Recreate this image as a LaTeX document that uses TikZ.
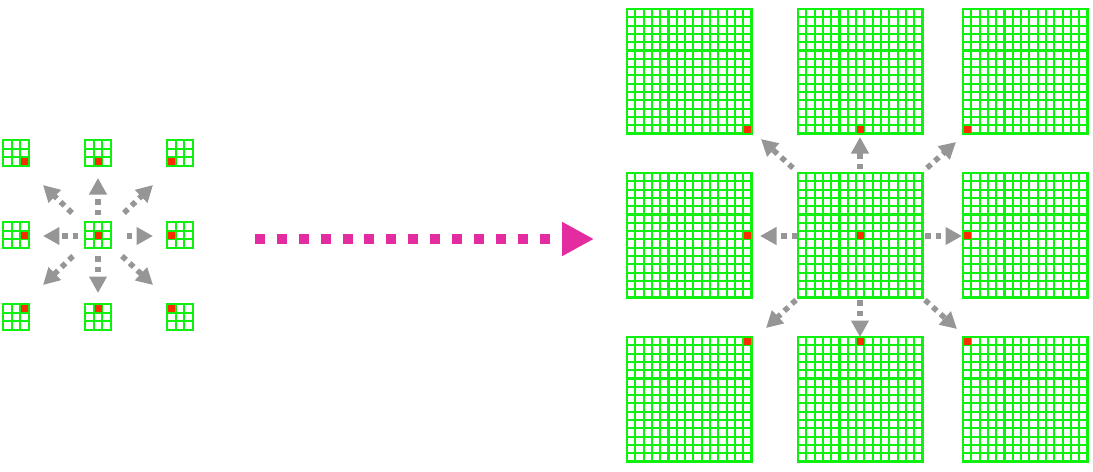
\documentclass[tikz,border=0pt]{standalone}
\usepackage{tikz}
\usetikzlibrary{calc,arrows.meta}
\definecolor{gridgreen}{RGB}{15,240,15}
\definecolor{cellred}{RGB}{250,45,0}
\definecolor{arrowgray}{RGB}{150,150,150}
\definecolor{pushpink}{RGB}{226,44,160}
\tikzset{
  gridline/.style={gridgreen, line width=1.15pt, line cap=rect},
  redcell/.style={fill=cellred},
  spread/.style={arrowgray, line width=0.11cm, dash pattern=on 0.11cm off 0.1cm,
    -{Triangle[length=0.33cm,width=0.34cm]}},
  bigpush/.style={pushpink, line width=0.2cm, dash pattern=on 0.2cm off 0.238cm,
    -{Triangle[length=0.64cm,width=0.64cm]}}
}
% #1,#2 top left corner, #3 cells per side, #4 cell size, #5/#6 column/row of the red cell
\newcommand{\cellgrid}[6]{%
  \foreach \k in {0,...,#3}{
    \draw[gridline] ({#1+\k*#4},#2) -- ++(0,{#3*#4});
    \draw[gridline] (#1,{#2+\k*#4}) -- ++({#3*#4},0);
  }
  \fill[redcell] ({#1+(#5-1)*#4+0.8},{#2+(#6-1)*#4+0.8}) rectangle ++({#4-1.6},{#4-1.6});
}

\begin{document}
\begin{tikzpicture}[x=0.02cm,y=-0.02cm]
\useasboundingbox (0,0) rectangle (1093,471);
% small grids
\foreach \gx/\gy/\rc/\rr in {3/140/3/3, 85/140/2/3, 167/140/1/3, 3/222/3/2, 85/222/2/2, 167/222/1/2, 3/304/3/1, 85/304/2/1, 167/304/1/1}
  \cellgrid{\gx}{\gy}{3}{8.7}{\rc}{\rr}
% large grids
\foreach \gx/\gy/\rc/\rr in {627/9/15/15, 798/9/8/15, 963/9/1/15, 627/173/15/8, 798/173/8/8, 963/173/1/8, 627/337/15/1, 798/337/8/1, 963/337/1/1}
  \cellgrid{\gx}{\gy}{15}{8.3}{\rc}{\rr}
\coordinate (lc) at (98,236);
\coordinate (rc) at (860,236);
% spreading arrows
\foreach \ax/\ay/\bx/\by in {0/-21/0/-58, 0/20/0/57, -20/0/-55/0, 29/0/55/0, -26/-23/-55/-51, 26/-23/55/-51, -25/20/-55/49, 24/20/55/49}
  \draw[spread] ($(lc)+(\ax,\ay)$) -- ($(lc)+(\bx,\by)$);
\foreach \ax/\ay/\bx/\by in {0/-67/0/-99, 0/64/0/101, -63/0/-100/0, 65/0/102/0, -67/-68/-99/-97, 67/-68/96/-94, -64/64/-94/92, 65/64/97/93}
  \draw[spread] ($(rc)+(\ax,\ay)$) -- ($(rc)+(\bx,\by)$);
% big arrow
\coordinate (ps) at (255,239);
\coordinate (pe) at (594,239);
\draw[bigpush] (ps) -- (pe);
\end{tikzpicture}
\end{document}
